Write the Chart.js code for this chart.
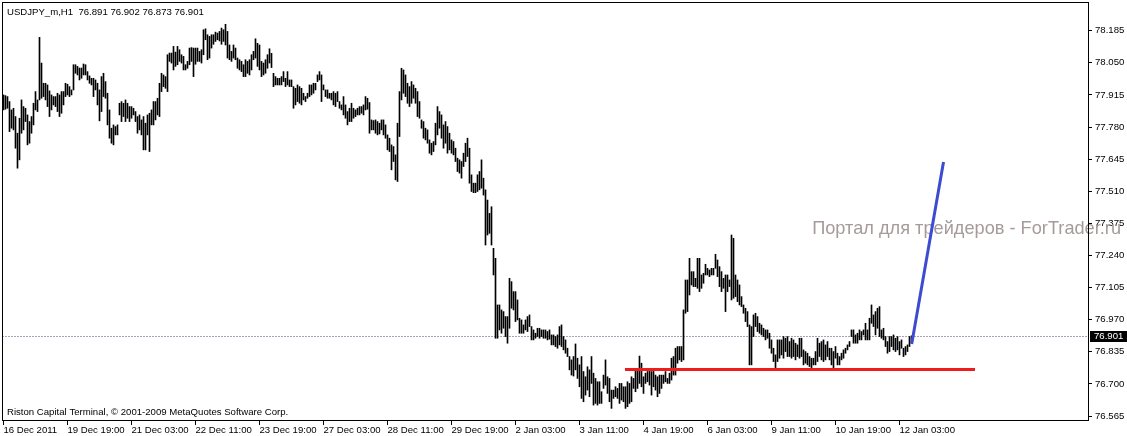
<!DOCTYPE html>
<html>
<head>
<meta charset="utf-8">
<script src="https://cdn.jsdelivr.net/npm/chart.js@4.4.0/dist/chart.umd.min.js"></script>
<style>
html, body { margin: 0; padding: 0; background: #fff; }
#wrap { width: 1127px; height: 436px; }
</style>
</head>
<body>
<div id="wrap"><canvas id="myChart" width="1127" height="436"></canvas></div>
<script>
// hourly bars (high / low per bar)
let highs = [
77.915,77.912,77.908,77.887,77.852,77.859,77.824,77.754,77.817,77.894,
77.866,77.859,77.831,77.803,77.824,77.880,77.929,77.894,78.157,78.049,
77.964,77.964,77.957,77.932,77.915,77.908,77.908,77.922,77.915,77.929,
77.929,77.964,77.960,77.950,77.936,78.042,78.042,78.035,78.028,78.028,
78.045,78.042,78.013,77.995,77.985,77.985,77.978,77.964,77.936,77.992,
78.006,77.971,77.922,77.852,77.775,77.789,77.782,77.789,77.880,77.887,
77.880,77.894,77.880,77.866,77.866,77.859,77.845,77.824,77.831,77.810,
77.824,77.796,77.831,77.838,77.852,77.887,77.887,77.901,77.964,78.006,
77.999,77.992,78.084,78.091,78.091,78.119,78.095,78.119,78.105,78.084,
78.077,78.042,78.056,78.112,78.114,78.112,78.112,78.112,78.098,78.105,
78.189,78.193,78.168,78.161,78.168,78.168,78.179,78.175,78.182,78.196,
78.189,78.212,78.182,78.125,78.098,78.125,78.112,78.070,78.063,78.056,
78.042,78.063,78.056,78.063,78.084,78.098,78.151,78.132,78.125,78.056,
78.049,78.063,78.084,78.109,78.090,78.006,77.992,77.985,77.985,77.992,
78.013,77.985,78.013,77.978,77.978,77.950,77.943,77.957,77.950,77.943,
77.922,77.908,77.922,77.957,77.957,77.964,77.964,77.999,78.013,77.999,
77.957,77.936,77.936,77.922,77.922,77.929,77.922,77.929,77.887,77.873,
77.908,77.873,77.845,77.859,77.880,77.859,77.852,77.859,77.866,77.866,
77.873,77.908,77.901,77.883,77.810,77.807,77.810,77.803,77.796,77.810,
77.810,77.789,77.747,77.733,77.705,77.698,77.663,77.796,77.929,78.027,
78.020,77.999,77.964,77.950,77.971,77.957,77.943,77.929,77.887,77.810,
77.803,77.775,77.768,77.726,77.712,77.719,77.796,77.866,77.845,77.831,
77.789,77.803,77.782,77.754,77.726,77.719,77.691,77.649,77.642,77.635,
77.670,77.712,77.733,77.691,77.579,77.544,77.544,77.579,77.593,77.642,
77.565,77.516,77.473,77.417,77.445,77.270,77.228,77.032,77.032,77.011,
77.004,76.983,76.983,77.144,77.130,77.088,77.088,77.053,76.976,76.969,
76.948,76.969,76.983,76.990,76.941,76.927,76.913,76.934,76.934,76.927,
76.927,76.927,76.920,76.927,76.906,76.906,76.899,76.906,76.941,76.948,
76.899,76.885,76.850,76.815,76.801,76.815,76.868,76.808,76.780,76.815,
76.752,76.730,76.772,76.759,76.815,76.745,76.723,76.709,76.709,76.667,
76.737,76.801,76.730,76.723,76.674,76.674,76.688,76.681,76.702,76.702,
76.688,76.688,76.709,76.702,76.730,76.723,76.759,76.765,76.817,76.787,
76.730,76.745,76.752,76.765,76.752,76.759,76.737,76.730,76.737,76.737,
76.737,76.752,76.723,76.745,76.808,76.815,76.850,76.857,76.857,76.857,
77.011,77.137,77.137,77.228,77.172,77.172,77.144,77.228,77.228,77.158,
77.165,77.203,77.186,77.179,77.186,77.186,77.245,77.221,77.193,77.172,
77.144,77.158,77.158,77.137,77.326,77.312,77.158,77.137,77.116,77.067,
77.032,77.018,77.004,76.948,76.941,76.990,76.997,76.983,76.955,76.948,
76.934,76.927,76.927,76.913,76.885,76.850,76.822,76.885,76.885,76.885,
76.899,76.892,76.899,76.878,76.892,76.885,76.871,76.864,76.892,76.892,
76.843,76.836,76.829,76.815,76.808,76.808,76.836,76.892,76.871,76.878,
76.885,76.864,76.878,76.850,76.850,76.836,76.857,76.829,76.815,76.829,
76.843,76.850,76.864,76.878,76.927,76.927,76.906,76.913,76.927,76.920,
76.927,76.955,76.927,76.976,77.032,76.990,77.004,77.018,77.025,76.927,
76.934,76.899,76.878,76.899,76.899,76.906,76.892,76.899,76.878,76.885,
76.850,76.857,76.864,76.899,76.902
];
let lows = [
77.852,77.855,77.859,77.761,77.775,77.768,77.691,77.607,77.642,77.754,
77.768,77.803,77.705,77.712,77.754,77.789,77.852,77.845,77.894,77.901,
77.908,77.894,77.866,77.824,77.852,77.873,77.866,77.845,77.824,77.838,
77.873,77.908,77.915,77.908,77.915,77.936,78.006,77.999,77.978,77.985,
77.999,77.999,77.978,77.964,77.957,77.908,77.936,77.873,77.806,77.845,
77.908,77.901,77.789,77.733,77.712,77.705,77.747,77.747,77.831,77.803,
77.824,77.803,77.817,77.803,77.817,77.831,77.803,77.754,77.768,77.747,
77.684,77.684,77.747,77.677,77.789,77.789,77.810,77.831,77.824,77.929,
77.950,77.943,77.929,78.056,78.049,78.020,78.035,78.042,78.056,78.049,
78.020,78.020,78.027,78.042,78.056,77.992,78.044,78.056,78.056,78.049,
78.084,78.147,78.063,78.070,78.112,78.128,78.140,78.147,78.142,78.128,
78.140,78.125,78.070,78.063,78.056,78.070,78.063,78.027,78.020,78.013,
77.992,77.992,78.006,77.999,78.020,78.063,78.070,78.035,78.020,77.992,
77.999,78.006,78.027,78.049,78.030,77.950,77.957,77.957,77.957,77.957,
77.971,77.950,77.957,77.950,77.950,77.859,77.873,77.887,77.880,77.873,
77.894,77.887,77.901,77.908,77.915,77.922,77.936,77.971,77.978,77.887,
77.936,77.908,77.901,77.901,77.894,77.873,77.866,77.887,77.859,77.852,
77.831,77.817,77.789,77.803,77.803,77.817,77.824,77.831,77.831,77.838,
77.831,77.852,77.855,77.754,77.768,77.768,77.754,77.747,77.751,77.768,
77.747,77.733,77.684,77.677,77.600,77.635,77.558,77.551,77.740,77.894,
77.922,77.908,77.880,77.866,77.880,77.901,77.880,77.824,77.817,77.775,
77.733,77.726,77.712,77.670,77.663,77.677,77.705,77.747,77.775,77.733,
77.691,77.712,77.670,77.684,77.670,77.663,77.635,77.593,77.586,77.565,
77.614,77.635,77.656,77.544,77.509,77.504,77.504,77.509,77.516,77.523,
77.494,77.284,77.326,77.333,77.284,77.158,76.892,76.892,76.927,76.913,
76.934,76.899,76.871,76.934,77.018,77.011,76.962,76.969,76.913,76.913,
76.913,76.927,76.920,76.941,76.885,76.885,76.892,76.899,76.892,76.899,
76.892,76.892,76.885,76.888,76.864,76.864,76.857,76.850,76.864,76.857,
76.843,76.829,76.815,76.759,76.737,76.733,76.759,76.723,76.688,76.639,
76.625,76.653,76.674,76.646,76.702,76.611,76.618,76.611,76.618,76.618,
76.681,76.695,76.660,76.625,76.597,76.639,76.646,76.639,76.618,76.632,
76.625,76.597,76.604,76.618,76.625,76.681,76.667,76.681,76.702,76.688,
76.660,76.702,76.709,76.695,76.653,76.688,76.674,76.646,76.660,76.681,
76.702,76.709,76.702,76.702,76.716,76.737,76.737,76.787,76.801,76.794,
76.801,76.997,77.004,77.074,77.116,77.109,77.109,77.102,77.088,77.102,
77.123,77.158,77.158,77.151,77.158,77.158,77.186,77.151,77.109,77.088,
77.102,77.004,77.088,77.109,77.053,77.060,77.067,77.046,77.032,77.025,
76.997,76.962,76.941,76.780,76.780,76.899,76.941,76.920,76.913,76.906,
76.899,76.885,76.892,76.850,76.829,76.794,76.766,76.794,76.808,76.822,
76.808,76.836,76.815,76.815,76.808,76.815,76.801,76.815,76.808,76.815,
76.780,76.787,76.780,76.773,76.766,76.780,76.780,76.794,76.815,76.801,
76.794,76.801,76.815,76.801,76.780,76.766,76.808,76.780,76.780,76.801,
76.808,76.829,76.843,76.857,76.899,76.871,76.871,76.871,76.885,76.885,
76.906,76.885,76.885,76.885,76.955,76.941,76.906,76.934,76.899,76.892,
76.885,76.857,76.829,76.836,76.857,76.843,76.836,76.843,76.822,76.850,
76.815,76.822,76.836,76.857,76.873
];

// time labels, one every 32 bars
let timeLabels = ['16 Dec 2011','19 Dec 19:00','21 Dec 03:00','22 Dec 11:00','23 Dec 19:00',
  '27 Dec 03:00','28 Dec 11:00','29 Dec 19:00','2 Jan 03:00','3 Jan 11:00','4 Jan 19:00',
  '6 Jan 03:00','9 Jan 11:00','10 Jan 19:00','12 Jan 03:00'];
let labelStep = 32;
let priceTicks = [76.565,76.700,76.835,76.970,77.105,77.240,77.375,77.510,77.645,77.780,77.915,78.050,78.185];
let lastPrice = 76.901;

// hand drawn objects on the chart (bar index, price)
let supportX = [310.75, 485.75];
let supportY = [76.761, 76.761];
let trendX = [454.1, 470.0];
let trendY = [76.868, 77.633];

let titleText = 'USDJPY_m,H1  76.891 76.902 76.873 76.901';
let copyText = 'Riston Capital Terminal, \u00a9 2001-2009 MetaQuotes Software Corp.';
let watermark = 'Портал для трейдеров - ForTrader.ru';

const FONT = '"Liberation Sans", Arial, sans-serif';
const FSIZE = 9.6;

function noPad(scale) {
    scale.paddingLeft = 0;
    scale.paddingRight = 0;
    scale.paddingTop = 0;
    scale.paddingBottom = 0;
}

let terminal = {
    id: 'terminal',
    beforeDatasetsDraw(chart) {
        const ctx = chart.ctx;
        const a = chart.chartArea;
        const py = Math.round(chart.scales.y.getPixelForValue(lastPrice)) + 0.5;
        ctx.save();
        ctx.strokeStyle = '#aca2b6';
        ctx.lineWidth = 1;
        ctx.setLineDash([2, 1]);
        ctx.beginPath();
        ctx.moveTo(a.left, py);
        ctx.lineTo(a.right, py);
        ctx.stroke();
        ctx.setLineDash([]);

        ctx.fillStyle = '#000';
        ctx.font = FSIZE + 'px ' + FONT;
        ctx.textBaseline = 'alphabetic';
        ctx.textAlign = 'left';
        ctx.fillText(titleText, 7, 15);
        ctx.fillText(copyText, 7, 415);

        ctx.fillStyle = 'rgb(166,154,154)';
        ctx.font = '18.2px ' + FONT;
        ctx.textAlign = 'right';
        ctx.fillText(watermark, 1121, 234);
        ctx.restore();
    },
    afterDraw(chart) {
        const ctx = chart.ctx;
        const a = chart.chartArea;
        ctx.save();
        ctx.strokeStyle = '#000';
        ctx.lineWidth = 1;
        ctx.strokeRect(a.left + 0.5, a.top + 0.5, a.right - a.left, a.bottom - a.top - 1);

        const py = Math.round(chart.scales.y.getPixelForValue(lastPrice));
        ctx.fillStyle = '#000';
        ctx.fillRect(a.right + 2, py - 5, 1127 - a.right - 2, 11);
        ctx.fillStyle = '#fff';
        ctx.font = FSIZE + 'px ' + FONT;
        ctx.textBaseline = 'middle';
        ctx.textAlign = 'left';
        ctx.fillText(lastPrice.toFixed(3), a.right + 6, py + 0.5);
        ctx.restore();
    }
};

let context = document.getElementById('myChart').getContext('2d');
let chart = new Chart(context, {
    type: 'bar',
    data: {
        datasets: [
            {
                type: 'line',
                data: supportX.map((x, i) => ({x: x, y: supportY[i]})),
                borderColor: '#ee1c1c',
                borderWidth: 3,
                borderCapStyle: 'butt',
                pointRadius: 0,
                fill: false,
                order: 0
            },
            {
                type: 'line',
                data: trendX.map((x, i) => ({x: x, y: trendY[i]})),
                borderColor: '#3c4bd0',
                borderWidth: 3,
                borderCapStyle: 'butt',
                pointRadius: 0,
                fill: false,
                order: 0
            },
            {
                label: 'USDJPY_m,H1',
                data: highs.map((h, i) => ({x: i, y: [lows[i], h]})),
                backgroundColor: '#000',
                borderWidth: 0,
                barThickness: 1,
                order: 1
            }
        ]
    },
    options: {
        responsive: false,
        devicePixelRatio: 1,
        animation: false,
        events: [],
        layout: { padding: { left: 2, top: 2, right: 0, bottom: 0 } },
        plugins: { legend: { display: false }, tooltip: { enabled: false } },
        scales: {
            x: {
                type: 'linear',
                position: 'bottom',
                offset: false,
                min: -0.75,
                max: 542.25,
                afterFit(scale) { scale.height = 15; noPad(scale); },
                afterBuildTicks(scale) {
                    scale.ticks = timeLabels.map((t, k) => ({value: k * labelStep}));
                },
                border: { display: false },
                grid: { offset: false, drawOnChartArea: false, drawTicks: true, tickLength: 4, color: '#000' },
                ticks: {
                    autoSkip: false,
                    maxRotation: 0,
                    minRotation: 0,
                    align: 'start',
                    padding: 0,
                    color: '#000',
                    font: { family: FONT, size: FSIZE },
                    callback: (v) => timeLabels[Math.round(v / labelStep)] || ''
                }
            },
            y: {
                type: 'linear',
                position: 'right',
                beginAtZero: false,
                min: 76.544,
                max: 78.3057,
                afterFit(scale) { scale.width = 39; noPad(scale); },
                afterBuildTicks(scale) {
                    scale.ticks = priceTicks.map(v => ({value: v}));
                },
                border: { display: false },
                grid: { drawOnChartArea: false, drawTicks: true, tickLength: 4, color: '#000' },
                ticks: {
                    padding: 3,
                    color: '#000',
                    font: { family: FONT, size: FSIZE },
                    callback: (v) => Number(v).toFixed(3)
                }
            }
        }
    },
    plugins: [terminal]
});
</script>
</body>
</html>
